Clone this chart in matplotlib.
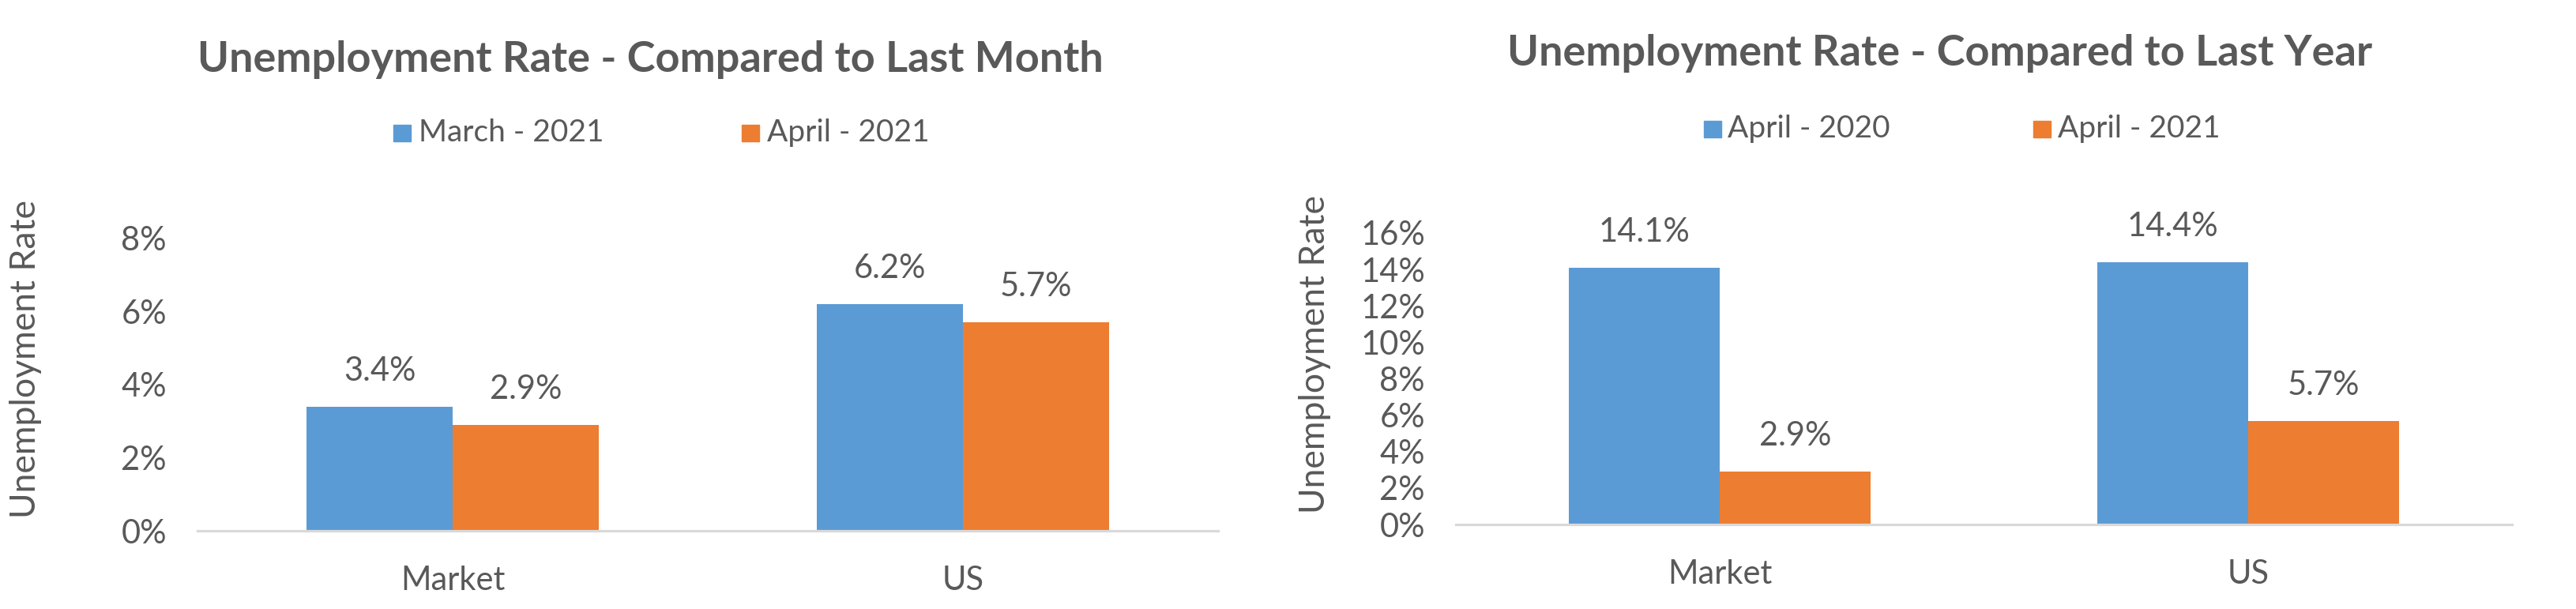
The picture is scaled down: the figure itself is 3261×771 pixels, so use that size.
import matplotlib
matplotlib.use("Agg")
import matplotlib.pyplot as plt
from matplotlib.patches import Rectangle

plt.rcParams['font.family'] = ['Lato', 'DejaVu Sans']

categories = ["Market", "US"]

month_title = "Unemployment Rate - Compared to Last Month"
month_series = ["March - 2021", "April - 2021"]
month_values = [[3.4, 6.2], [2.9, 5.7]]
month_ticks = [0, 2, 4, 6, 8]

year_title = "Unemployment Rate - Compared to Last Year"
year_series = ["April - 2020", "April - 2021"]
year_values = [[14.1, 14.4], [2.9, 5.7]]
year_ticks = [0, 2, 4, 6, 8, 10, 12, 14, 16]

ylabel = "Unemployment Rate"

COLORS = ["#5B9BD5", "#ED7D31"]
TEXT = "#595959"
AXIS = "#D9D9D9"

W, H = 3262, 771
fig = plt.figure(figsize=(W / 100, H / 100), dpi=100)


def fx(px):
    return px / W


def fy(py):
    return 1 - py / H


def draw(rect, values, series, ticks, title, title_xy, ylab_xy, legend_sq, legend_y):
    ax = fig.add_axes(rect)
    bw = 0.2857
    for i, (vals, col) in enumerate(zip(values, COLORS)):
        xs = [c + (i - 0.5) * bw for c in range(len(categories))]
        bars = ax.bar(xs, vals, width=bw, color=col, zorder=2)
        for b, v in zip(bars, vals):
            ax.annotate(f"{v:.1f}%", (b.get_x() + b.get_width() / 2, v),
                        xytext=(0, 45), textcoords="offset pixels",
                        ha="center", va="center", fontsize=30, color=TEXT,
                        annotation_clip=False)
    ax.set_xlim(-0.5, len(categories) - 0.5)
    ax.set_ylim(0, ticks[-1])
    ax.set_yticks(ticks)
    ax.set_yticklabels([f"{t}%" for t in ticks])
    ax.set_xticks(range(len(categories)))
    ax.set_xticklabels(categories)
    for s in ax.spines.values():
        s.set_visible(False)
    ax.axhline(0, color=AXIS, lw=2.3, zorder=3, clip_on=False)
    ax.tick_params(axis="both", length=0, labelsize=30, colors=TEXT)
    ax.tick_params(axis="y", pad=28)
    ax.tick_params(axis="x", pad=32)
    fig.text(fx(title_xy[0]), fy(title_xy[1]), title, ha="center", va="center",
             fontsize=39, fontweight="bold", color=TEXT)
    fig.text(fx(ylab_xy[0]), fy(ylab_xy[1]), ylabel, rotation=90, ha="center",
             va="center", fontsize=32, color=TEXT)
    for (sx, tx), name, col in zip(legend_sq, series, COLORS):
        fig.patches.append(Rectangle((fx(sx), fy(legend_y + 10.5)), fx(22), 21 / H,
                                     transform=fig.transFigure, color=col))
        fig.text(fx(tx), fy(legend_y), name, ha="left", va="center",
                 fontsize=28, color=TEXT)
    return ax


draw([fx(250), fy(672), fx(1542 - 250), (672 - 302) / H],
     month_values, month_series, month_ticks, month_title,
     (823, 75), (33, 455), [(498, 530), (939, 971)], 168)

draw([fx(1843), fy(664), fx(3180 - 1843), (664 - 295) / H],
     year_values, year_series, year_ticks, year_title,
     (2456, 67), (1665, 449), [(2157, 2187), (2574, 2605)], 163)

fig.savefig("out.png", dpi=100, facecolor="white")
